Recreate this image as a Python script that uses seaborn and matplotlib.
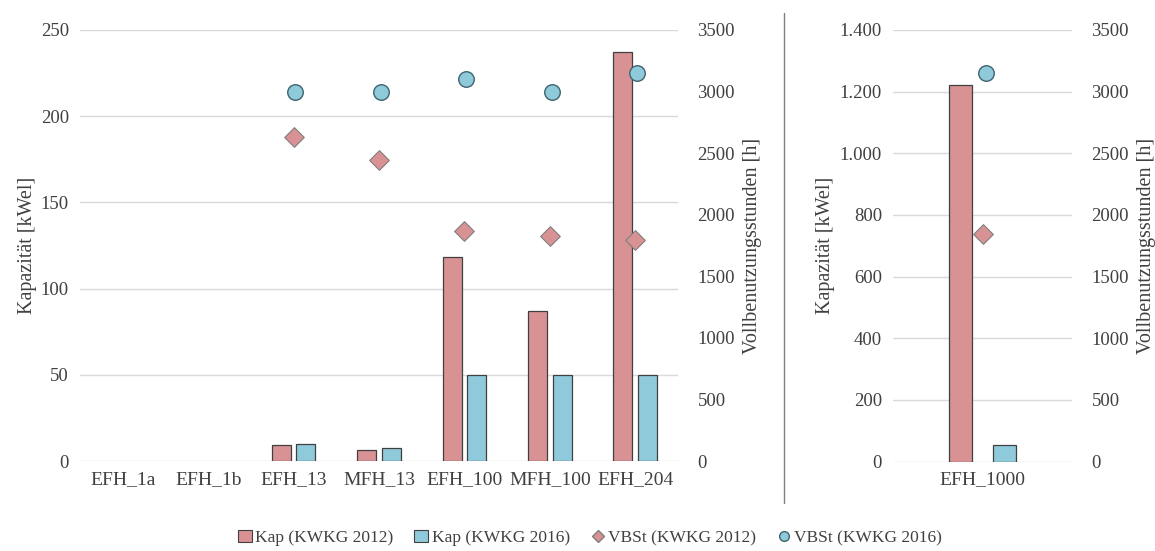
import numpy as np
import pandas as pd
import matplotlib
matplotlib.use("Agg")
import matplotlib.pyplot as plt
import seaborn as sns
from matplotlib.lines import Line2D
from matplotlib.patches import Patch
from matplotlib.ticker import FuncFormatter

# data
cats = ["EFH_1a", "EFH_1b", "EFH_13", "MFH_13", "EFH_100", "MFH_100", "EFH_204"]
kap_2012 = [0, 0, 9, 6.5, 118.5, 87, 237]
kap_2016 = [0, 0, 10, 7.5, 50, 50, 50]
vbst_2012 = [np.nan, np.nan, 2630, 2445, 1870, 1830, 1795]
vbst_2016 = [np.nan, np.nan, 3000, 3000, 3105, 3000, 3150]

cats_big = ["EFH_1000"]
kap_2012_big = [1222]
kap_2016_big = [52]
vbst_2012_big = [1845]
vbst_2016_big = [3150]

series = ["Kap (KWKG 2012)", "Kap (KWKG 2016)", "VBSt (KWKG 2012)", "VBSt (KWKG 2016)"]

red = "#D99294"
blue = "#8FCADB"
edge = "#404040"
grid = "#D9D9D9"
txt = "#404040"

sns.set_style("white")
plt.rcParams["font.family"] = ["Liberation Serif", "DejaVu Serif"]
plt.rcParams["font.size"] = 13.5
plt.rcParams["text.color"] = txt
plt.rcParams["axes.labelcolor"] = txt
plt.rcParams["xtick.color"] = txt
plt.rcParams["ytick.color"] = txt


def panel(ax, names, k12, k16, v12, v16, ylim, yticks, width, gap, fmt):
    df = pd.DataFrame({
        "cat": names * 2,
        "kap": list(k12) + list(k16),
        "ser": [series[0]] * len(names) + [series[1]] * len(names),
    })
    sns.barplot(data=df, x="cat", y="kap", hue="ser", palette=[red, blue],
                width=width, gap=gap, edgecolor=edge, linewidth=0.9, saturation=1,
                legend=False, ax=ax, zorder=2)
    # zero-height bars are not drawn in the original
    for p in ax.patches:
        if p.get_height() == 0:
            p.set_visible(False)
    ax.set_ylim(*ylim)
    ax.set_yticks(yticks)
    ax.yaxis.set_major_formatter(FuncFormatter(fmt))
    ax.grid(axis="y", color=grid, linewidth=1, zorder=0)
    ax.set_axisbelow(True)
    ax.set_xlabel("")
    ax.set_ylabel("Kapazität [kWel]", labelpad=3, fontsize=14.5)
    ax.tick_params(axis="y", length=0, pad=8, labelsize=13.5)
    ax.tick_params(axis="x", length=0, pad=7, labelsize=14)
    for s in ax.spines.values():
        s.set_visible(False)

    ax2 = ax.twinx()
    xs = np.arange(len(names))
    sns.scatterplot(x=xs, y=v12, marker="D", s=100, color=red, edgecolor="#7F7F7F",
                    linewidth=0.8, ax=ax2, zorder=3)
    sns.scatterplot(x=xs + 0.02, y=v16, marker="o", s=125, color=blue, edgecolor="#3F6470",
                    linewidth=1.0, ax=ax2, zorder=3)
    ax2.set_ylim(0, 3500)
    ax2.set_yticks(range(0, 3501, 500))
    ax2.set_ylabel("Vollbenutzungsstunden [h]", labelpad=6, fontsize=14.5)
    ax2.tick_params(axis="y", length=0, pad=14, labelsize=13.5)
    for s in ax2.spines.values():
        s.set_visible(False)
    ax2.grid(False)
    ax.set_xlim(-0.5, len(names) - 0.5)
    return ax2


fig = plt.figure(figsize=(11.55, 5.51), dpi=100)
axL = fig.add_axes([80 / 1155, 1 - 461 / 551, 598 / 1155, 431 / 551])
axR = fig.add_axes([893 / 1155, 1 - 461.5 / 551, 179 / 1155, 431.5 / 551])

panel(axL, cats, kap_2012, kap_2016, vbst_2012, vbst_2016,
      (0, 250), range(0, 251, 50), 0.58, 0.23, lambda v, p: f"{int(v)}")
panel(axR, cats_big, kap_2012_big, kap_2016_big, vbst_2012_big, vbst_2016_big,
      (0, 1400), range(0, 1401, 200), 0.49, 0.48,
      lambda v, p: f"{int(v):,}".replace(",", "."))

# separator between the panels
fig.add_artist(Line2D([784 / 1155, 784 / 1155], [1 - 13 / 551, 1 - 503 / 551],
                      color="#7F7F7F", linewidth=1))

handles = [
    Patch(facecolor=red, edgecolor=edge, linewidth=0.8),
    Patch(facecolor=blue, edgecolor=edge, linewidth=0.8),
    Line2D([], [], marker="D", linestyle="", markersize=6, markerfacecolor=red, markeredgecolor="#7F7F7F"),
    Line2D([], [], marker="o", linestyle="", markersize=7, markerfacecolor=blue, markeredgecolor="#3F6470"),
]
fig.legend(handles, series, loc="center", bbox_to_anchor=(590 / 1155, 1 - 538 / 551),
           ncol=4, frameon=False, handlelength=0.8, handletextpad=0.2,
           columnspacing=1.2, fontsize=12.5)

fig.savefig("out.png", dpi=100)
